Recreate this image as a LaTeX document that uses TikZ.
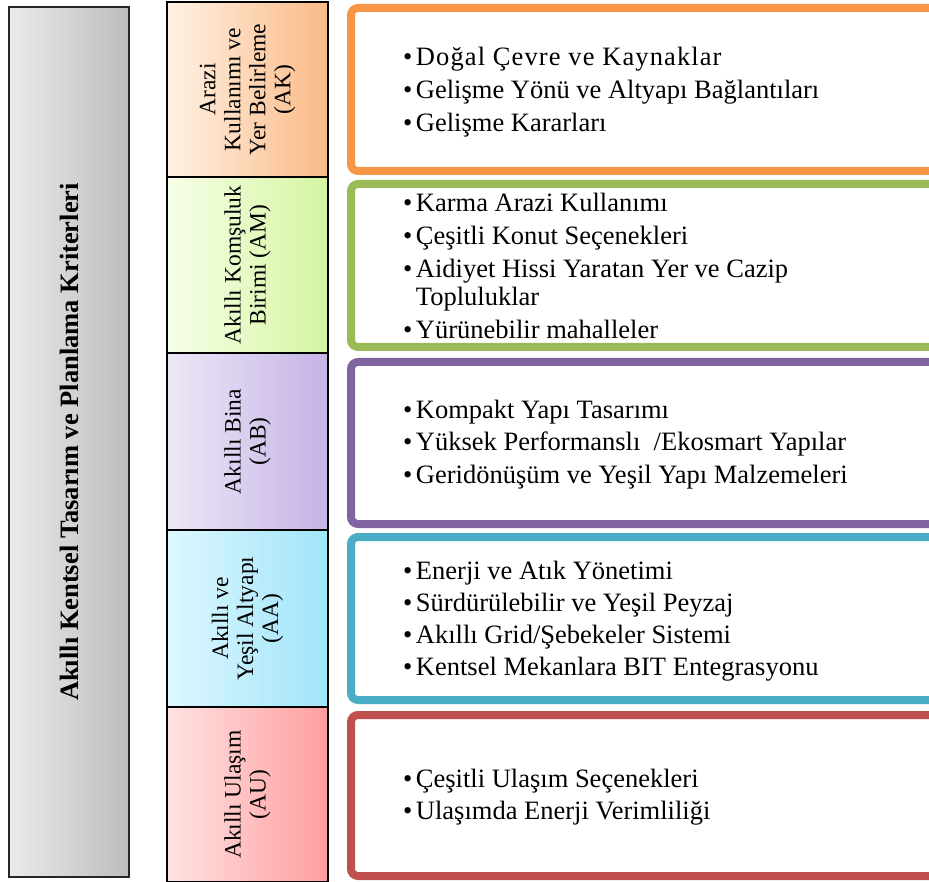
\documentclass[tikz,border=0pt]{standalone}
\usepackage{fontspec}
\setmainfont{Liberation Serif}
\newcommand\bul{\textbullet\hspace{3.5pt}}
\newcommand\ind{\hphantom{\bul}}
\begin{document}
\begin{tikzpicture}[x=1pt,y=-1pt,
  cell/.style={draw=black, line width=1.4pt, inner sep=0pt, outer sep=0pt, minimum width=161pt},
  clabel/.style={rotate=90, align=center, font=\fontsize{23.5}{25}\selectfont},
  rbox/.style={line width=8pt, rounded corners=7pt},
  items/.style={anchor=west, align=left, inner sep=0pt, font=\fontsize{26.5}{28}\selectfont}]
\useasboundingbox (0,0) rectangle (929,882);
\clip (0,0) rectangle (929,882);
\definecolor{cOr}{HTML}{F79646}
\definecolor{cGr}{HTML}{9BBB59}
\definecolor{cPu}{HTML}{8064A2}
\definecolor{cBl}{HTML}{4BACC6}
\definecolor{cRe}{HTML}{C0504D}
% left title box
\node[draw=black!85, line width=1.4pt, inner sep=0pt, minimum width=120pt, minimum height=870pt,
      left color=black!8, right color=black!26] (titlebox) at (69,442) {};
\node[rotate=90, font=\fontsize{26.5}{28}\selectfont\bfseries] (title) at (titlebox.center) {Akıllı Kentsel Tasarım ve Planlama Kriterleri};
% middle cells
\node[cell, minimum height=175pt, left color=orange!10, right color={rgb,255:red,250;green,186;blue,134}] (ak) at (247.5,89.5) {};
\node[cell, minimum height=176pt, left color={rgb,255:red,246;green,255;blue,232}, right color={rgb,255:red,213;green,245;blue,160}] (am) at (247.5,265) {};
\node[cell, minimum height=177pt, left color={rgb,255:red,237;green,232;blue,247}, right color={rgb,255:red,198;green,179;blue,230}] (ab) at (247.5,441.5) {};
\node[cell, minimum height=177pt, left color={rgb,255:red,222;green,247;blue,255}, right color={rgb,255:red,159;green,229;blue,249}] (aa) at (247.5,618.5) {};
\node[cell, minimum height=175pt, left color={rgb,255:red,255;green,226;blue,226}, right color={rgb,255:red,255;green,158;blue,158}] (au) at (247.5,794.5) {};
\node[clabel] (akl) at (ak.center) {Arazi\\Kullanımı ve\\Yer Belirleme\\(AK)};
\node[clabel] (aml) at (am.center) {Akıllı Komşuluk\\Birimi (AM)};
\node[clabel] (abl) at (ab.center) {Akıllı Bina\\(AB)};
\node[clabel] (aal) at (aa.center) {Akıllı ve\\Yeşil Altyapı\\(AA)};
\node[clabel] (aul) at (au.center) {Akıllı Ulaşım\\(AU)};
% right boxes
\draw[rbox, draw=cOr] (351,8) rectangle (970,171);
\draw[rbox, draw=cGr] (351,184) rectangle (970,347);
\draw[rbox, draw=cPu] (351,362) rectangle (970,524);
\draw[rbox, draw=cBl] (351,537) rectangle (970,700);
\draw[rbox, draw=cRe] (351,715) rectangle (970,876);
\node[items] (akt) at (403,92) {\bul{\addfontfeature{LetterSpace=4.2}Doğal Çevre ve Kaynaklar}\\[5pt]\bul Gelişme Yönü ve Altyapı Bağlantıları\\[5pt]\bul Gelişme Kararları};
\node[items] (amt) at (403,266) {\bul Karma Arazi Kullanımı\\[5pt]\bul Çeşitli Konut Seçenekleri\\[5pt]\bul Aidiyet Hissi Yaratan Yer ve Cazip\\\ind Topluluklar\\[5pt]\bul Yürünebilir mahalleler};
\node[items] (abt) at (403,444.5) {\bul Kompakt Yapı Tasarımı\\[4.5pt]\bul Yüksek Performanslı\ \ /Ekosmart Yapılar\\[4.5pt]\bul Geridönüşüm ve Yeşil Yapı Malzemeleri};
\node[items] (aat) at (403,621.5) {\bul Enerji ve Atık Yönetimi\\[4pt]\bul Sürdürülebilir ve Yeşil Peyzaj\\[4pt]\bul Akıllı Grid/Şebekeler Sistemi\\[4pt]\bul Kentsel Mekanlara BIT Entegrasyonu};
\node[items] (aut) at (403,797.5) {\bul Çeşitli Ulaşım Seçenekleri\\[4pt]\bul Ulaşımda Enerji Verimliliği};
\end{tikzpicture}
\end{document}
